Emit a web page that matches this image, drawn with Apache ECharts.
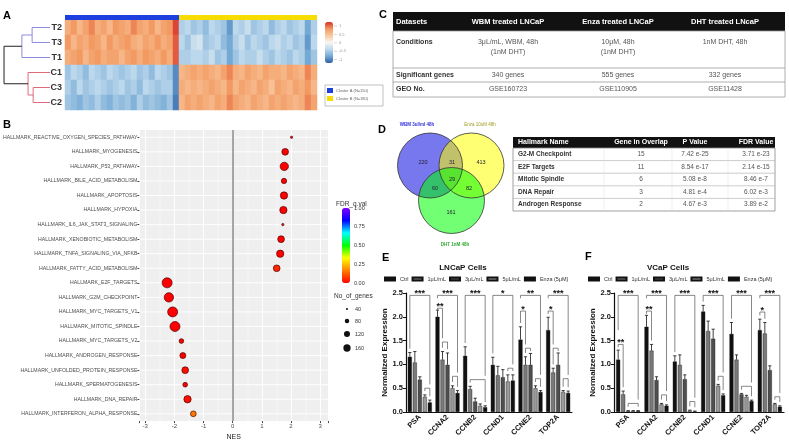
<!DOCTYPE html>
<html><head><meta charset="utf-8">
<script src="https://cdn.jsdelivr.net/npm/echarts@6/dist/echarts.min.js"></script>
<style>html,body{margin:0;padding:0;background:#fff}#c{width:789px;height:446px}</style>
</head><body><div id="c"></div>
<script>
// ---------- Panel A data ----------
const heatRows = ['T2','T3','T1','C1','C3','C2'];
const heatT2 = [0.8,1.0,0.7,0.9,1.1,0.8,0.9,0.7,1.0,0.9,0.8,1.1,0.9,0.8,1.0,0.7,0.9,1.0,1.4,-0.6,-0.5,-0.7,-0.6,-0.8,-0.5,-0.6,-0.7,-1.1,-0.5,-0.6,-0.4,-0.7,-0.6,-0.5,-0.8,-0.6,-0.5,-0.7,-0.6,-0.5,-1.0,-0.6];
const heatT3 = [1.0,0.7,0.9,0.8,1.0,0.9,0.7,1.0,0.8,0.9,1.0,0.8,0.7,0.9,0.8,1.0,0.8,0.9,1.3,-0.5,-0.7,-0.4,-0.3,-0.7,-0.6,-0.5,-0.8,-1.0,-0.6,-0.4,-0.7,-0.5,-0.6,-0.7,-0.5,-0.4,-0.6,-0.5,-0.7,-0.6,-1.1,-0.5];
const heatT1 = [0.8,0.9,1.0,0.7,0.9,1.0,0.8,0.9,0.9,0.7,0.9,1.0,0.8,1.0,0.9,0.8,1.0,0.8,1.3,-0.6,-0.6,-0.5,-0.5,-0.6,-0.4,-0.7,-0.6,-1.0,-0.7,-0.5,-0.6,-0.6,-0.4,-0.6,-0.7,-0.5,-0.6,-0.7,-0.5,-0.6,-1.0,-0.7];
const heatC1 = [-0.7,-0.5,-0.6,-0.8,-0.5,-0.6,-0.7,-0.5,-0.6,-0.7,-0.6,-0.5,-0.7,-0.6,-0.8,-0.5,-0.6,-0.7,-1.2,0.7,0.8,0.9,0.8,0.9,0.8,0.7,0.9,1.1,0.8,0.7,0.9,0.8,0.7,0.9,0.8,0.8,0.7,0.9,0.8,0.7,1.1,0.8];
const heatC3 = [-0.6,-0.8,-0.5,-0.7,-0.6,-0.5,-0.6,-0.7,-0.6,-0.5,-0.7,-0.6,-0.8,-0.5,-0.6,-0.7,-0.6,-0.6,-1.2,0.8,0.7,0.8,0.7,0.8,0.9,0.8,0.7,1.0,0.7,0.9,0.8,0.7,0.9,0.8,0.6,0.9,0.8,0.7,0.9,0.8,1.0,0.7];
const heatC2 = [-0.7,-0.8,-0.9,-0.7,-0.8,-0.6,-0.8,-0.9,-0.7,-0.8,-0.7,-0.9,-0.6,-0.8,-0.7,-0.8,-0.9,-0.7,-1.3,0.7,0.9,0.8,0.9,0.8,0.7,0.9,0.8,1.1,0.9,0.8,0.7,0.9,0.8,0.7,0.9,0.8,0.9,0.8,0.7,0.8,1.1,0.9];
const heatClusterCols = [19, 23];
const clusterNames = ['Cluster A (N=150)', 'Cluster B (N=180)'];
const heatScaleLabels = ['1', '0.5', '0', '-0.5', '-1'];
const dendroMerges = [[0,1,0.35],[6,2,0.55],[4,5,0.33],[3,8,0.43],[7,9,0.9]];

// ---------- Panel B data ----------
const gseaPathways = ['HALLMARK_REACTIVE_OXYGEN_SPECIES_PATHWAY','HALLMARK_MYOGENESIS','HALLMARK_P53_PATHWAY','HALLMARK_BILE_ACID_METABOLISM','HALLMARK_APOPTOSIS','HALLMARK_HYPOXIA','HALLMARK_IL6_JAK_STAT3_SIGNALING','HALLMARK_XENOBIOTIC_METABOLISM','HALLMARK_TNFA_SIGNALING_VIA_NFKB','HALLMARK_FATTY_ACID_METABOLISM','HALLMARK_E2F_TARGETS','HALLMARK_G2M_CHECKPOINT','HALLMARK_MYC_TARGETS_V1','HALLMARK_MITOTIC_SPINDLE','HALLMARK_MYC_TARGETS_V2','HALLMARK_ANDROGEN_RESPONSE','HALLMARK_UNFOLDED_PROTEIN_RESPONSE','HALLMARK_SPERMATOGENESIS','HALLMARK_DNA_REPAIR','HALLMARK_INTERFERON_ALPHA_RESPONSE'];
const gseaNES = [2.02,1.80,1.77,1.76,1.76,1.74,1.72,1.66,1.63,1.51,-2.25,-2.19,-2.06,-1.98,-1.76,-1.71,-1.63,-1.63,-1.55,-1.35];
const gseaGenes = [43,140,199,99,161,161,43,140,161,140,275,242,275,275,84,118,140,84,161,110];
const gseaFDR = [0,0,0,0,0,0,0.01,0,0,0.05,0,0,0,0,0,0,0.02,0,0.02,0.16];
const fdrTicks = [1.0, 0.75, 0.5, 0.25, 0.0];
const geneTicks = [40, 80, 120, 160];

// ---------- Panel C data ----------
const tableCHeader = ['Datasets','WBM treated LNCaP','Enza treated LNCaP','DHT treated LNcaP'];
const tableCRow1 = ['Conditions','3μL/mL, WBM, 48h\n(1nM DHT)','10μM, 48h\n(1nM DHT)','1nM DHT, 48h'];
const tableCRow2 = ['Significant genes','340 genes','555 genes','332 genes'];
const tableCRow3 = ['GEO No.','GSE160723','GSE110905','GSE11428'];

// ---------- Panel D data ----------
const vennSetNames = ['WBM 3ul/ml 48h','Enza 10uM 48h','DHT 1nM 48h'];
const vennCounts = [220, 31, 413, 60, 29, 82, 161]; // A, AB, B, AC, ABC, BC, C
const tableDHeader = ['Hallmark Name','Gene in Overlap','P Value','FDR Value'];
const tableDNames = ['G2-M Checkpoint','E2F Targets','Mitotic Spindle','DNA Repair','Androgen Response'];
const tableDGenes = ['15','11','6','3','2'];
const tableDP = ['7.42 e-25','8.54 e-17','5.08 e-8','4.81 e-4','4.67 e-3'];
const tableDFDR = ['3.71 e-23','2.14 e-15','8.46 e-7','6.02 e-3','3.89 e-2'];

// ---------- Panels E/F data ----------
const geneNames = ['PSA','CCNA2','CCNB2','CCND1','CCNE2','TOP2A'];
const treatments = ['Ctrl','1μL/mL','3μL/mL','5μL/mL','Enza (5μM)'];
const expTicks = [0, 0.5, 1.0, 1.5, 2.0, 2.5];
const lncapMean = [[1.16,1.04,0.68,0.32,0.20],[2.00,1.10,0.99,0.50,0.40],[1.18,0.48,0.22,0.13,0.10],[0.99,0.77,0.73,0.64,0.66],[1.52,0.99,0.99,0.50,0.42],[1.72,0.83,0.99,0.42,0.40]];
const lncapSD = [[0.09,0.23,0.06,0.04,0.05],[0.14,0.17,0.25,0.05,0.05],[0.19,0.06,0.07,0.04,0.03],[0.16,0.19,0.16,0.14,0.12],[0.27,0.17,0.24,0.05,0.03],[0.27,0.09,0.25,0.03,0.04]];
const lncapSig = [[0,0,4,2.45,'***'],[0,3,4,0.5,''],[1,0,4,2.45,'***'],[1,0,1,2.18,'**'],[1,1,2,1.47,''],[1,3,4,0.75,''],[2,0,4,2.45,'***'],[2,1,4,0.68,''],[3,0,4,2.45,'*'],[3,3,4,0.92,''],[4,0,4,2.45,'**'],[4,0,1,2.12,'*'],[4,1,2,1.34,''],[4,3,4,0.7,''],[5,0,4,2.45,'***'],[5,0,1,2.12,'*'],[5,1,2,1.34,''],[5,3,4,0.7,'']];
const vcapMean = [[1.10,0.37,0.02,0.02,0.02],[1.79,1.29,0.67,0.16,0.13],[1.06,0.99,0.69,0.03,0.01],[2.11,1.70,1.54,0.55,0.35],[1.64,1.10,0.37,0.32,0.23],[1.72,1.65,0.88,0.16,0.11]];
const vcapSD = [[0.20,0.07,0.01,0.01,0.01],[0.24,0.13,0.07,0.02,0.02],[0.12,0.21,0.09,0.01,0.01],[0.13,0.21,0.20,0.03,0.03],[0.24,0.10,0.02,0.03,0.02],[0.23,0.23,0.09,0.02,0.02]];
const vcapSig = [[0,0,4,2.45,'***'],[0,0,1,1.42,'**'],[0,2,4,0.18,''],[1,0,4,2.45,'***'],[1,0,1,2.12,'**'],[1,3,4,0.36,''],[2,0,4,2.45,'***'],[2,3,4,0.22,''],[3,0,4,2.45,'***'],[3,3,4,0.75,''],[4,0,4,2.45,'***'],[4,2,4,0.54,''],[5,0,4,2.45,'***'],[5,0,1,2.1,'*'],[5,3,4,0.32,'']];

// ---------- styles / helpers ----------
const FF = '"Liberation Sans", Arial, sans-serif';
const fnt = (s, b) => (b ? 'bold ' : '') + s + 'px ' + FF;
const heatColors = ['#2c5fa8','#74a9d4','#bcd8ec','#f6f6f2','#f9c9a0','#f29a62','#d73027'];
const fdrColors = ['#ff0000','#ff7f00','#ffff00','#00ff00','#00ffff','#0000ff','#7f00ff'];
const barColors = ['#111111','#7a7a7a','#4f4f4f','#9a9a9a','#111111'];
const BAR_W = 4, BAR_STEP = 5;
const dotSize = n => Math.sqrt(Math.max(0.408 * n - 12.3, 2));

const heatMatrix = [heatT2, heatT3, heatT1, heatC1, heatC3, heatC2];
const heatCols = heatT2.map((_, i) => String(i));
const heatData = [];
heatMatrix.forEach((row, r) => row.forEach((v, c) => heatData.push([c, r, v])));
const annotData = heatCols.map((_, c) => ({ value: 1, itemStyle: { color: c < heatClusterCols[0] ? '#1d3fe0' : '#f6dc00' } }));

const dendroNodes = heatRows.map((_, i) => ({ y: i, h: 0 }));
dendroMerges.forEach(m => dendroNodes.push({ y: (dendroNodes[m[0]].y + dendroNodes[m[1]].y) / 2, h: m[2] }));
const dendroColors = ['#8c8ce0','#8c8ce0','#e06a7a','#e06a7a','#222'];

function bracketItems(mean, sd, sig) {
  return sig.map((b, k) => {
    const [g, a, c, lvl] = b;
    const legBottom = bar => {
      let top = mean[g][bar] + sd[g][bar];
      sig.forEach((o, j) => {
        if (j !== k && o[0] === g && o[3] < lvl && o[1] <= bar && bar <= o[2]) top = Math.max(top, o[3] + (o[4] ? 0.22 : 0));
      });
      return Math.min(top + 0.08, lvl - 0.06);
    };
    return [g, lvl, a, c, legBottom(a), legBottom(c)];
  });
}
function errItems(mean, sd) {
  const out = [];
  mean.forEach((row, g) => row.forEach((m, s) => out.push([g, m, sd[g][s], s])));
  return out;
}
function errRender(params, api) {
  const g = api.value(0), m = api.value(1), e = api.value(2), s = api.value(3);
  const cx = api.coord([g, 0])[0] + (s - 2) * BAR_STEP;
  const y0 = api.coord([g, m])[1], y1 = api.coord([g, m + e])[1];
  return { type: 'group', children: [
    { type: 'line', shape: { x1: cx, y1: y0, x2: cx, y2: y1 }, style: { stroke: '#111', lineWidth: 0.8 } },
    { type: 'line', shape: { x1: cx - 1.6, y1: y1, x2: cx + 1.6, y2: y1 }, style: { stroke: '#111', lineWidth: 0.8 } }
  ] };
}
function bracketRender(sig) {
  return function (params, api) {
    const g = api.value(0), lvl = api.value(1), a = api.value(2), c = api.value(3), ba = api.value(4), bc = api.value(5);
    const cx = api.coord([g, 0])[0];
    const xa = cx + (a - 2) * BAR_STEP, xc = cx + (c - 2) * BAR_STEP;
    const y = api.coord([g, lvl])[1], ya = api.coord([g, ba])[1], yc = api.coord([g, bc])[1];
    const kids = [{ type: 'polyline', shape: { points: [[xa, ya], [xa, y], [xc, y], [xc, yc]] }, style: { stroke: '#555', lineWidth: 0.7, fill: null } }];
    const lab = sig[params.dataIndex][4];
    if (lab) kids.push({ type: 'text', x: (xa + xc) / 2, y: y - 1.5, style: { text: lab, font: fnt(9, true), fill: '#111', align: 'center', verticalAlign: 'middle', textAlign: 'center', textVerticalAlign: 'middle' } });
    return { type: 'group', children: kids };
  };
}

// ---------- graphic (labels, tables, venn, legends) ----------
const G = [];
function T(x, y, text, size, bold, o) {
  G.push({ type: 'text', x, y, z: 60, silent: true, style: Object.assign({ text, font: fnt(size, bold), fill: '#222', textAlign: 'left', textVerticalAlign: 'middle' }, o || {}) });
}
function L(x1, y1, x2, y2, stroke, w) { G.push({ type: 'line', z: 55, silent: true, shape: { x1, y1, x2, y2 }, style: { stroke, lineWidth: w } }); }
function R(x, y, w, h, style, z) { G.push({ type: 'rect', z: z || 50, silent: true, shape: { x, y, width: w, height: h }, style }); }

[['A', 3, 16], ['B', 3, 125], ['C', 379, 15], ['D', 378, 130], ['E', 382, 258], ['F', 585, 257]].forEach(p => T(p[1], p[2], p[0], 11, true, { fill: '#000' }));

// A: heat scale labels + cluster legend
heatScaleLabels.forEach((s, i) => { const y = 26 + i * 8.4; L(334, y, 337, y, '#bbb', 0.6); T(339, y, s, 4, false, { fill: '#999' }); });
R(325, 85, 58, 21, { fill: '#fff', stroke: '#999', lineWidth: 0.6 });
R(327, 88, 6, 5, { fill: '#1d3fe0' }, 56);
R(327, 96, 6, 5, { fill: '#f6dc00' }, 56);
T(336, 90.5, clusterNames[0], 4, false, { fill: '#666' });
T(336, 98.5, clusterNames[1], 4, false, { fill: '#666' });

// B legends
T(336, 204, 'FDR_q.val', 6.5, false, { fill: '#333' });
fdrTicks.forEach(v => { const y = 283 - v * 75; T(354, y, v.toFixed(2), 5.5, false, { fill: '#333' }); });
T(334, 296, 'No_of_genes', 6.5, false, { fill: '#333' });
geneTicks.forEach((n, i) => {
  const y = [309, 321, 334, 348][i];
  G.push({ type: 'circle', z: 55, silent: true, shape: { cx: 347, cy: y, r: dotSize(n) / 2 }, style: { fill: '#111' } });
  T(355, y, String(n), 5.5, false, { fill: '#333' });
});

// C table
(function () {
  const x0 = 393, x1 = 785, colX = [396, 508, 618, 725];
  R(x0, 12, x1 - x0, 19, { fill: '#111' });
  tableCHeader.forEach((s, i) => T(colX[i], 21.5, s, 7.5, true, { fill: '#fff', textAlign: i ? 'center' : 'left' }));
  R(x0, 31, x1 - x0, 66, { fill: 'none', stroke: '#999', lineWidth: 0.8 });
  L(x0, 68, x1, 68, '#999', 0.8); L(x0, 82, x1, 82, '#999', 0.8);
  tableCRow1.forEach((s, i) => T(colX[i], 37, s, 7, i === 0, { fill: i ? '#555' : '#333', textAlign: i ? 'center' : 'left', textVerticalAlign: 'top', lineHeight: 10 }));
  tableCRow2.forEach((s, i) => T(colX[i], 75, s, 7, i === 0, { fill: i ? '#555' : '#333', textAlign: i ? 'center' : 'left' }));
  tableCRow3.forEach((s, i) => T(colX[i], 89.5, s, 7, i === 0, { fill: i ? '#555' : '#333', textAlign: i ? 'center' : 'left' }));
})();

// D table
(function () {
  const x0 = 513, x1 = 775, colX = [518, 641, 695, 756], rh = 12.6, top = 148;
  R(x0, 137, x1 - x0, 11, { fill: '#111' });
  tableDHeader.forEach((s, i) => T(colX[i], 142.5, s, 7, true, { fill: '#fff', textAlign: i ? 'center' : 'left' }));
  R(x0, top, x1 - x0, rh * 5, { fill: 'none', stroke: '#888', lineWidth: 0.8 });
  for (let r = 1; r < 5; r++) L(x0, top + r * rh, x1, top + r * rh, '#aaa', 0.6);
  [604, 672, 728].forEach(x => L(x, top, x, top + rh * 5, '#ddd', 0.5));
  tableDNames.forEach((s, r) => {
    const y = top + (r + 0.5) * rh;
    T(colX[0], y, s, 6.5, true, { fill: '#333' });
    T(colX[1], y, tableDGenes[r], 6.5, false, { fill: '#555', textAlign: 'center' });
    T(colX[2], y, tableDP[r], 6.5, false, { fill: '#555', textAlign: 'center' });
    T(colX[3], y, tableDFDR[r], 6.5, false, { fill: '#555', textAlign: 'center' });
  });
})();

// D Venn
(function () {
  const C = [[430, 165.5, 32.5, '#7777ee'], [471.5, 165.5, 32.5, 'rgba(255,255,0,0.55)'], [451.5, 200.5, 33, 'rgba(0,255,0,0.55)']];
  C.forEach((c, i) => G.push({ type: 'circle', z: 40 + i, silent: true, shape: { cx: c[0], cy: c[1], r: c[2] }, style: { fill: c[3] } }));
  C.forEach(c => G.push({ type: 'circle', z: 45, silent: true, shape: { cx: c[0], cy: c[1], r: c[2] }, style: { fill: 'none', stroke: '#333', lineWidth: 0.8 } }));
  const pos = [[423, 162], [452, 162], [481, 162], [435, 188], [452, 179], [469, 188], [451, 212]];
  vennCounts.forEach((n, i) => T(pos[i][0], pos[i][1], String(n), 5.5, false, { fill: '#223', textAlign: 'center' }));
  T(417, 125, vennSetNames[0], 4.5, true, { fill: '#3333dd', textAlign: 'center' });
  T(480, 125, vennSetNames[1], 4.5, false, { fill: '#a09a20', textAlign: 'center' });
  T(455, 245, vennSetNames[2], 4.5, true, { fill: '#33aa33', textAlign: 'center' });
})();

T(463, 268, 'LNCaP Cells', 8, true, { fill: '#111', textAlign: 'center' });
T(668, 268, 'VCaP Cells', 8, true, { fill: '#111', textAlign: 'center' });

// ---------- option ----------
const barAxisX = gi => ({
  type: 'category', gridIndex: gi, data: geneNames,
  axisLine: { lineStyle: { color: '#111', width: 1.2 } },
  axisTick: { alignWithLabel: true, length: 3, lineStyle: { color: '#111' } },
  axisLabel: { rotate: 45, fontSize: 7.5, fontWeight: 'bold', color: '#111', fontFamily: FF, margin: 4 }
});
const barAxisY = gi => ({
  type: 'value', gridIndex: gi, min: expTicks[0], max: expTicks[expTicks.length - 1], interval: expTicks[1] - expTicks[0],
  name: 'Normalized Expression', nameLocation: 'middle', nameGap: 17,
  nameTextStyle: { fontSize: 8, fontWeight: 'bold', color: '#111', fontFamily: FF },
  axisLine: { show: true, lineStyle: { color: '#111', width: 1.2 } },
  axisTick: { show: true, length: 3, lineStyle: { color: '#111' } },
  splitLine: { show: false },
  axisLabel: { fontSize: 7.5, fontWeight: 'bold', color: '#111', fontFamily: FF, margin: 3, formatter: v => v.toFixed(1) }
});
function barSeries(gi, mean, sd, sig) {
  const out = treatments.map((name, s) => ({
    type: 'bar', name, xAxisIndex: gi, yAxisIndex: gi, data: mean.map(r => r[s]),
    barWidth: BAR_W, barGap: '25%',
    itemStyle: { color: barColors[s], borderColor: '#111', borderWidth: 0.4 }
  }));
  out.push({ type: 'custom', xAxisIndex: gi, yAxisIndex: gi, silent: true, z: 5, data: errItems(mean, sd), encode: { x: 0, y: 1 }, renderItem: errRender });
  out.push({ type: 'custom', xAxisIndex: gi, yAxisIndex: gi, silent: true, z: 6, data: bracketItems(mean, sd, sig), encode: { x: 0, y: 1 }, renderItem: bracketRender(sig) });
  return out;
}
const legendCfg = left => ({
  data: treatments, left, top: 276, width: 205, itemWidth: 10, itemHeight: 3, itemGap: 3, icon: 'rect', padding: 0,
  selectedMode: false, textStyle: { fontSize: 5.5, color: '#333', fontFamily: FF, padding: 0 }
});

const option = {
  animation: false,
  backgroundColor: '#fff',
  textStyle: { fontFamily: FF },
  grid: [
    { left: 65, top: 15, width: 252, height: 5 },
    { left: 65, top: 20, width: 252, height: 90 },
    { left: 3, top: 20, width: 47, height: 90 },
    { left: 137, top: 130, width: 191, height: 295, show: true, backgroundColor: '#efefef', borderWidth: 0 },
    { left: 406, top: 293, width: 166, height: 119 },
    { left: 614, top: 293, width: 170, height: 119 }
  ],
  xAxis: [
    { type: 'category', gridIndex: 0, data: heatCols, show: false },
    { type: 'category', gridIndex: 1, data: heatCols, show: false },
    { type: 'value', gridIndex: 2, min: 0, max: 0.92, inverse: true, show: false },
    { type: 'value', gridIndex: 3, min: -3.2, max: 3.27, name: 'NES', nameLocation: 'middle', nameGap: 12,
      nameTextStyle: { fontSize: 7, color: '#222', fontFamily: FF },
      axisLine: { show: false, onZero: false }, axisTick: { show: true, length: 2, lineStyle: { color: '#444' } },
      axisLabel: { fontSize: 6, color: '#4d4d4d', margin: 2, formatter: v => (Math.abs(v - Math.round(v)) < 1e-9 ? String(Math.round(v)) : '') },
      splitLine: { show: true, lineStyle: { color: '#fff', width: 0.9 } },
      minorTick: { show: false, splitNumber: 2 }, minorSplitLine: { show: true, lineStyle: { color: '#fff', width: 0.4 } } },
    barAxisX(4), barAxisX(5)
  ],
  yAxis: [
    { type: 'value', gridIndex: 0, min: 0, max: 1, show: false },
    { type: 'category', gridIndex: 1, data: heatRows, inverse: true, axisLine: { show: false }, axisTick: { show: false },
      axisLabel: { fontSize: 9, fontWeight: 'bold', color: '#333', margin: 3, fontFamily: FF } },
    { type: 'value', gridIndex: 2, min: -0.5, max: 5.5, inverse: true, show: false },
    { type: 'category', gridIndex: 3, data: gseaPathways, inverse: true, axisLine: { show: false, onZero: false },
      axisTick: { show: true, alignWithLabel: true, length: 2, lineStyle: { color: '#444' } }, splitLine: { show: false },
      axisLabel: { fontSize: 5.2, color: '#4d4d4d', margin: 2, fontFamily: FF } },
    barAxisY(4), barAxisY(5)
  ],
  visualMap: [
    { type: 'continuous', seriesIndex: 1, dimension: 2, min: -1.5, max: 1.5, left: 325, top: 22, itemWidth: 8, itemHeight: 41,
      padding: 0, calculable: false, text: null, showLabel: false, hoverLink: false, inRange: { color: heatColors } },
    { type: 'continuous', seriesIndex: 4, dimension: 3, min: 0, max: 1, left: 342, top: 208, itemWidth: 8, itemHeight: 75,
      padding: 0, calculable: false, text: null, showLabel: false, hoverLink: false, inRange: { color: fdrColors } }
  ],
  legend: [legendCfg(384), legendCfg(588)],
  graphic: { elements: G },
  series: [
    { type: 'bar', xAxisIndex: 0, yAxisIndex: 0, data: annotData, barWidth: '100%', barCategoryGap: '0%', silent: true },
    { type: 'heatmap', xAxisIndex: 1, yAxisIndex: 1, data: heatData, silent: true },
    { type: 'custom', xAxisIndex: 2, yAxisIndex: 2, silent: true,
      data: dendroMerges.map((m, k) => [m[2], dendroNodes[heatRows.length + k].y]), encode: { x: 0, y: 1 },
      renderItem: (params, api) => {
        const m = dendroMerges[params.dataIndex];
        const A = dendroNodes[m[0]], B = dendroNodes[m[1]];
        const pts = [api.coord([A.h, A.y]), api.coord([m[2], A.y]), api.coord([m[2], B.y]), api.coord([B.h, B.y])];
        return { type: 'polyline', shape: { points: pts }, style: { stroke: dendroColors[params.dataIndex], lineWidth: 1, fill: null } };
      } },
    { type: 'custom', xAxisIndex: 3, yAxisIndex: 3, silent: true, z: 1,
      data: gseaPathways.map((_, i) => [0, i]), encode: { x: 0, y: 1 },
      renderItem: (params, api) => {
        const y = api.coord([0, api.value(1)])[1];
        const cs = params.coordSys;
        return { type: 'line', shape: { x1: cs.x, y1: y, x2: cs.x + cs.width, y2: y }, style: { stroke: '#fff', lineWidth: 0.9 } };
      } },
    { type: 'scatter', xAxisIndex: 3, yAxisIndex: 3, z: 3,
      data: gseaNES.map((v, i) => [v, i, gseaGenes[i], gseaFDR[i]]),
      symbolSize: d => dotSize(d[2]),
      itemStyle: { borderColor: 'rgba(70,0,0,0.85)', borderWidth: 0.8, opacity: 1 },
      markLine: { silent: true, symbol: 'none', label: { show: false }, lineStyle: { color: '#8a8a8a', width: 1.5, type: 'solid' }, data: [{ xAxis: 0 }] } },
    ...barSeries(4, lncapMean, lncapSD, lncapSig),
    ...barSeries(5, vcapMean, vcapSD, vcapSig)
  ]
};
const chart = echarts.init(document.getElementById('c'));
chart.setOption(option);
</script></body></html>
